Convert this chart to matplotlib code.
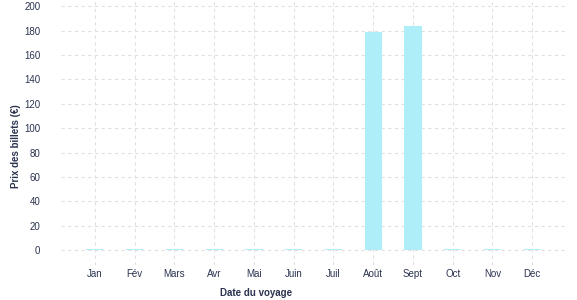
import matplotlib.pyplot as plt

mois = ["Jan", "Fév", "Mars", "Avr", "Mai", "Juin", "Juil", "Août", "Sept", "Oct", "Nov", "Déc"]
prix = [1, 1, 1, 1, 1, 1, 1, 179, 184, 1, 1, 1]

plt.rcParams['font.family'] = ['Liberation Sans', 'DejaVu Sans']
couleur_texte = "#2b3350"

fig = plt.figure(figsize=(5.77, 3.0), dpi=100)
ax = fig.add_axes([0.106, 0.117, 0.877, 0.883])

x = list(range(len(mois)))
ax.bar(x, prix, width=0.43, color="#aeeef8", edgecolor="none", zorder=3)

ax.set_xlim(-0.85, 11.88)
ax.set_ylim(-12, 205)
ax.set_yticks(range(0, 201, 20))
ax.set_xticks(x)
ax.set_xticklabels(mois)

ax.grid(True, color="#e0e0e0", linestyle=(0, (3, 3)), linewidth=0.8, zorder=0)
for s in ax.spines.values():
    s.set_visible(False)
ax.tick_params(length=0, colors=couleur_texte, labelsize=7)
ax.tick_params(axis="y", pad=15)
ax.tick_params(axis="x", pad=3)

ax.set_xlabel("Date du voyage", fontsize=7, fontweight="bold", color=couleur_texte)
ax.set_ylabel("Prix des billets (€)", fontsize=7, fontweight="bold", color=couleur_texte)
ax.xaxis.set_label_coords(0.385, -0.088)
ax.yaxis.set_label_coords(-0.08, 0.45)

fig.savefig("out.png", dpi=100)
